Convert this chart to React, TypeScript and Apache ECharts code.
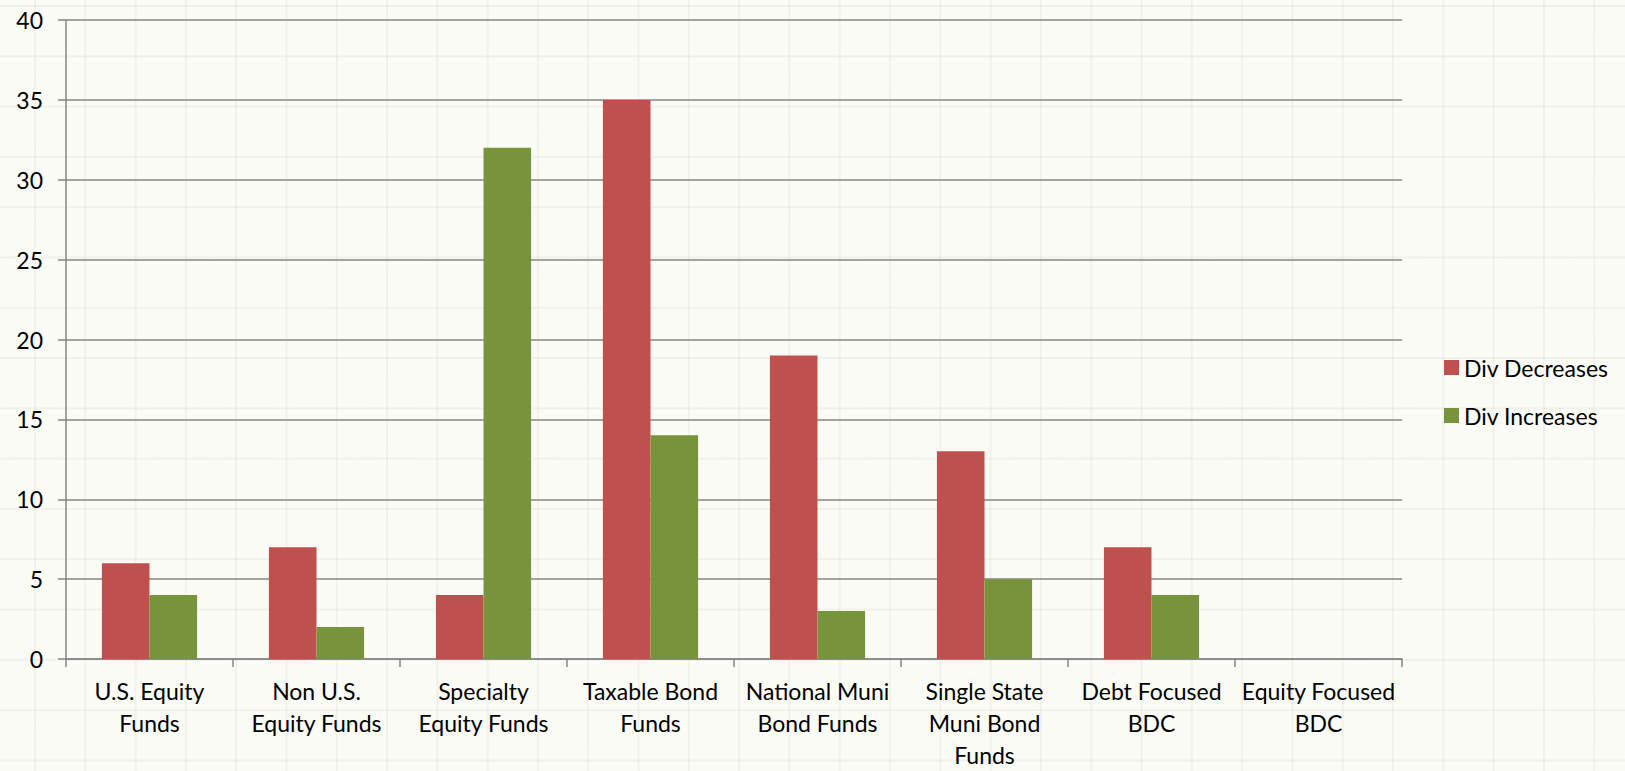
import React, { useEffect, useRef } from "react";
import * as echarts from "echarts";

// Fund categories (line breaks follow the axis label wrapping)
const categories = [
  "U.S. Equity\nFunds",
  "Non U.S.\nEquity Funds",
  "Specialty\nEquity Funds",
  "Taxable Bond\nFunds",
  "National Muni\nBond Funds",
  "Single State\nMuni Bond\nFunds",
  "Debt Focused\nBDC",
  "Equity Focused\nBDC",
];

const divDecreases = [6, 7, 4, 35, 19, 13, 7, 0];
const divIncreases = [4, 2, 32, 14, 3, 5, 4, 0];

const yTicks = { min: 0, max: 40, interval: 5 };

const FONT = "Lato, 'Open Sans', sans-serif";
const FONT_SIZE = 23;
const AXIS_GRAY = "#868686";

export default function App() {
  const ref = useRef<HTMLDivElement>(null);

  useEffect(() => {
    if (!ref.current) return;
    const chart = echarts.init(ref.current, undefined, { renderer: "svg" });
    chart.setOption({
      animation: false,
      backgroundColor: "transparent",
      textStyle: { fontFamily: FONT },
      grid: { left: 66, right: 223, top: 20, bottom: 93, containLabel: false },
      legend: {
        orient: "vertical",
        left: 1444,
        top: 356,
        padding: 0,
        itemWidth: 15,
        itemHeight: 15,
        itemGap: 25,
        icon: "rect",
        textStyle: { fontSize: FONT_SIZE, color: "#000", fontFamily: FONT },
        data: ["Div Decreases", "Div Increases"],
      },
      xAxis: {
        type: "category",
        data: categories,
        axisLine: { show: true, lineStyle: { color: AXIS_GRAY, width: 1.5 } },
        axisTick: { show: true, length: 8, alignWithLabel: false, lineStyle: { color: AXIS_GRAY, width: 1.5 } },
        axisLabel: {
          interval: 0,
          margin: 16,
          fontSize: FONT_SIZE,
          lineHeight: 32,
          color: "#000",
          fontFamily: FONT,
          align: "center",
        },
        splitLine: { show: false },
      },
      yAxis: {
        type: "value",
        min: yTicks.min,
        max: yTicks.max,
        interval: yTicks.interval,
        axisLine: { show: true, lineStyle: { color: AXIS_GRAY, width: 1.5 } },
        axisTick: { show: true, length: 8, lineStyle: { color: AXIS_GRAY, width: 1.5 } },
        axisLabel: { margin: 23, fontSize: FONT_SIZE, color: "#000", fontFamily: FONT },
        splitLine: { show: true, lineStyle: { color: AXIS_GRAY, width: 1.5 } },
      },
      series: [
        {
          name: "Div Decreases",
          type: "bar",
          data: divDecreases,
          barGap: "0%",
          barCategoryGap: "43%",
          itemStyle: { color: "#C0504D" },
        },
        {
          name: "Div Increases",
          type: "bar",
          data: divIncreases,
          barGap: "0%",
          barCategoryGap: "43%",
          itemStyle: { color: "#77933C" },
        },
      ],
    });
    return () => chart.dispose();
  }, []);

  return (
    <div
      style={{
        position: "fixed",
        left: 0,
        top: 0,
        width: 1625,
        height: 771,
        backgroundColor: "#fcfcf7",
        backgroundImage:
          "linear-gradient(to right, rgba(120,120,100,0.08) 2px, transparent 2px), linear-gradient(to bottom, rgba(120,120,100,0.08) 2px, transparent 2px)",
        backgroundSize: "50.3px 50.3px",
        backgroundPosition: "34px 5px",
      }}
    >
      <div ref={ref} style={{ width: 1625, height: 771 }} />
    </div>
  );
}
